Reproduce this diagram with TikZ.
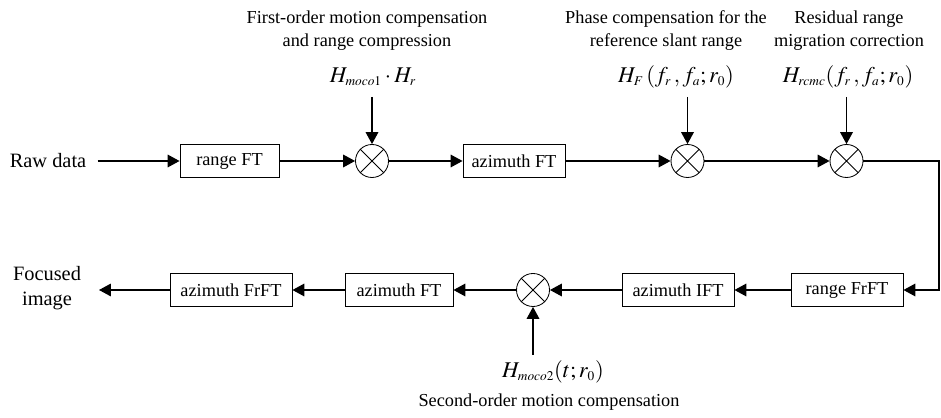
\documentclass[tikz,border=0pt]{standalone}
\usepackage{mathptmx}
\usepackage{fontspec}
\setmainfont{Liberation Serif}
\usetikzlibrary{arrows.meta, positioning}
\DeclareMathSizes{16}{16}{9.5}{7}
\tikzset{
  blk/.style ={draw, line width=0.6pt, minimum height=0.83cm, inner xsep=0pt,
               font=\fontsize{13}{15}\selectfont},
  mult/.style={draw, circle, line width=0.6pt, minimum size=0.825cm, inner sep=0pt,
               path picture={\draw[line width=0.6pt]
                 (path picture bounding box.north west) -- (path picture bounding box.south east)
                 (path picture bounding box.north east) -- (path picture bounding box.south west);}},
  arr/.style ={-{Triangle[length=8.5pt, width=9pt]}, line width=0.9pt},
  lbl/.style ={font=\fontsize{13}{16.3}\selectfont, align=center},
  io/.style  ={font=\fontsize{14.5}{17.5}\selectfont, align=center},
  eqn/.style ={font=\fontsize{16}{18}\selectfont},
}
\begin{document}
\begin{tikzpicture}[x=0.025cm, y=-0.025cm]
  \useasboundingbox (0,0) rectangle (941,418);
  % ---- top row
  \node[io]   (raw) at (48,161)    {Raw data};
  \node[blk, minimum width=2.475cm] (rft) at (229.5,161) {range FT};
  \node[mult] (m1)  at (372,161)   {};
  \node[blk, minimum width=2.55cm]  (aft) at (514,161)   {azimuth FT};
  \node[mult] (m2)  at (687.5,161) {};
  \node[mult] (m3)  at (846.5,161) {};
  \draw[arr, shorten <=4.5pt] (raw) -- (rft);
  \draw[arr] (rft) -- (m1);
  \draw[arr] (m1) -- (aft);
  \draw[arr] (aft) -- (m2);
  \draw[arr] (m2) -- (m3);
  % ---- phase functions fed from above
  \node[lbl] (t1) at (367,31) {First-order motion compensation\\and range compression};
  \node[eqn] (h1) at (373,77) {$H_{moco1}\cdot H_r$};
  \node[lbl] (t2) at (666,31) {Phase compensation for the\\reference slant range};
  \node[eqn] (h2) at (676,77) {$H_F\,(f_r\,,f_a;r_0)$};
  \node[lbl] (t3) at (849,31) {Residual range\\migration correction};
  \node[eqn] (h3) at (848,77) {$H_{rcmc}(f_r\,,f_a;r_0)$};
  \coordinate (i1) at (372,97);
  \coordinate (i2) at (687.5,97);
  \coordinate (i3) at (846.5,97);
  \draw[arr] (i1) -- (m1);
  \draw[arr] (i2) -- (m2);
  \draw[arr] (i3) -- (m3);
  % ---- bottom row, right to left
  \coordinate (rc) at (939,290);
  \node[blk, minimum width=2.8cm]  (rfr)  at (847,290) {range FrFT};
  \node[blk, minimum width=2.8cm]  (aift) at (678,290) {azimuth IFT};
  \node[mult] (m4) at (533,290) {};
  \node[blk, minimum width=2.7cm]  (aft2) at (399,290) {azimuth FT};
  \node[blk, minimum width=3.05cm] (afr)  at (231,290) {azimuth FrFT};
  \node[io]   (img) at (47,288) {Focused\\image};
  \coordinate (o1) at (99,290);
  \draw[arr] (m3) -| (rc) -- (rfr);
  \draw[arr] (rfr) -- (aift);
  \draw[arr] (aift) -- (m4);
  \draw[arr] (m4) -- (aft2);
  \draw[arr] (aft2) -- (afr);
  \draw[arr] (afr) -- (o1);
  % ---- second-order term fed from below
  \coordinate (i4) at (533,355);
  \node[eqn] (h4) at (553,372) {$H_{moco2}(t;r_0)$};
  \node[lbl] (t4) at (549,402) {Second-order motion compensation};
  \draw[arr] (i4) -- (m4);
\end{tikzpicture}
\end{document}
